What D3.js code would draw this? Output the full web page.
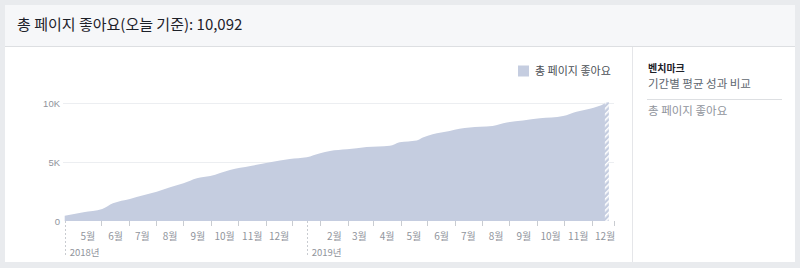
<!DOCTYPE html>
<html>
<head>
<meta charset="utf-8">
<script src="https://cdn.jsdelivr.net/npm/d3@7"></script>
<style>
  html, body { margin: 0; padding: 0; background: #e9ebee; }
  svg { display: block; font-family: "Noto Sans CJK KR", "Liberation Sans", sans-serif; }
</style>
</head>
<body>
<div id="chart"></div>
<script>
// cumulative page likes
const dates = [
  '2018-04-05', '2018-04-26', '2018-05-17', '2018-05-29', '2018-06-17', '2018-07-02',
  '2018-07-17', '2018-08-01', '2018-08-16', '2018-08-31', '2018-09-15', '2018-10-07',
  '2018-10-30', '2018-11-21', '2018-12-13', '2019-01-01', '2019-01-16', '2019-01-27',
  '2019-02-15', '2019-03-09', '2019-04-04', '2019-04-15', '2019-05-04', '2019-05-11',
  '2019-05-22', '2019-06-10', '2019-06-21', '2019-07-14', '2019-07-28', '2019-08-13',
  '2019-08-31', '2019-09-19', '2019-10-15', '2019-10-30', '2019-11-14', '2019-12-01',
  '2019-12-03'
];
const likes = [
  450, 740, 1020, 1500, 1870, 2180,
  2490, 2860, 3200, 3630, 3820, 4330,
  4670, 4990, 5270, 5410, 5750, 5950,
  6090, 6290, 6400, 6700, 6850, 7100,
  7370, 7650, 7840, 8010, 8080, 8370,
  8540, 8720, 8920, 9290, 9540, 10000,
  10092
];
const yTicks = [0, 5000, 10000];
const yTickLabels = ['0', '5K', '10K'];
const monthLabels2018 = ['5월', '6월', '7월', '8월', '9월', '10월', '11월', '12월'];
const monthLabels2019 = ['2월', '3월', '4월', '5월', '6월', '7월', '8월', '9월', '10월', '11월', '12월'];
const yearLabels = ['2018년', '2019년'];
const title = '총 페이지 좋아요(오늘 기준): 10,092';
const seriesName = '총 페이지 좋아요';

const W = 800, H = 268;
const parse = d3.timeParse('%Y-%m-%d');
const data = dates.map((d, i) => ({ date: parse(d), value: likes[i] }));

const svg = d3.select('#chart').append('svg')
  .attr('width', W)
  .attr('height', H);

// panels
svg.append('rect').attr('x', 0).attr('y', 0).attr('width', W).attr('height', H).attr('fill', '#e9ebee');
svg.append('rect').attr('x', 5).attr('y', 5).attr('width', 790).attr('height', 41).attr('fill', '#f6f7f9');
svg.append('rect').attr('x', 5).attr('y', 46).attr('width', 790).attr('height', 216).attr('fill', '#fff');
svg.append('line').attr('x1', 5).attr('x2', 795).attr('y1', 46.5).attr('y2', 46.5).attr('stroke', '#dddfe2');
svg.append('line').attr('x1', 632.5).attr('x2', 632.5).attr('y1', 47).attr('y2', 262).attr('stroke', '#e5e6e9');

svg.append('text')
  .attr('x', 17).attr('y', 30)
  .attr('font-size', 15).attr('fill', '#1d2129')
  .text(title);

// scales
const x = d3.scaleTime()
  .domain([parse('2018-04-05'), parse('2019-12-11')])
  .range([64.7, 614]);
const y = d3.scaleLinear()
  .domain([0, 10000])
  .range([221, 103.3]);

// grid
svg.append('g').selectAll('line')
  .data(yTicks.slice(1))
  .join('line')
  .attr('x1', 63).attr('x2', 614)
  .attr('y1', d => Math.round(y(d)) + 0.5).attr('y2', d => Math.round(y(d)) + 0.5)
  .attr('stroke', '#eceef1');

svg.append('g').selectAll('text')
  .data(yTicks)
  .join('text')
  .attr('x', 60).attr('y', d => y(d) + 3.5)
  .attr('text-anchor', 'end')
  .attr('font-family', 'Liberation Sans, Arial, sans-serif')
  .attr('font-size', 9.5).attr('fill', '#90949c')
  .text((d, i) => yTickLabels[i]);

// area
const area = d3.area()
  .x(d => x(d.date))
  .y0(y(0))
  .y1(d => y(d.value))
  .curve(d3.curveMonotoneX);

svg.append('path')
  .datum(data)
  .attr('d', area)
  .attr('fill', '#c5cde0');

// hatched strip at the end (incomplete period)
const defs = svg.append('defs');
const pat = defs.append('pattern')
  .attr('id', 'hatch')
  .attr('patternUnits', 'userSpaceOnUse')
  .attr('width', 4).attr('height', 4)
  .attr('patternTransform', 'rotate(45)');
pat.append('rect').attr('width', 4).attr('height', 4).attr('fill', '#c5cde0');
pat.append('rect').attr('width', 1.6).attr('height', 4).attr('fill', '#fff');

const last = data[data.length - 1];
svg.append('rect')
  .attr('x', x(last.date) - 2)
  .attr('y', y(last.value))
  .attr('width', 4)
  .attr('height', y(0) - y(last.value))
  .attr('fill', 'url(#hatch)');

// x axis ticks at mid-month
const tickDates = d3.timeMonth.range(parse('2018-05-01'), parse('2019-12-01'))
  .map(d => d3.timeDay.offset(d, 15));
tickDates.push(x.domain()[1]);
svg.append('g').selectAll('line')
  .data(tickDates)
  .join('line')
  .attr('x1', d => Math.round(x(d)) + 0.5).attr('x2', d => Math.round(x(d)) + 0.5)
  .attr('y1', 221).attr('y2', 226)
  .attr('stroke', '#c9ccd1');

// month labels at the first of each month
const months2018 = d3.timeMonth.range(parse('2018-05-01'), parse('2019-01-01'));
const months2019 = d3.timeMonth.range(parse('2019-02-01'), parse('2020-01-01'));
const monthData = months2018.map((d, i) => ({ date: d, label: monthLabels2018[i] }))
  .concat(months2019.map((d, i) => ({ date: d, label: monthLabels2019[i] })));

svg.append('g').selectAll('text')
  .data(monthData)
  .join('text')
  .attr('x', d => x(d.date))
  .attr('y', 240)
  .attr('text-anchor', 'middle')
  .attr('font-size', 10).attr('fill', '#90949c')
  .text(d => d.label);

// year boundaries
const years = [parse('2018-04-05'), parse('2019-01-01')];
svg.append('g').selectAll('line')
  .data(years)
  .join('line')
  .attr('x1', d => Math.round(x(d)) + 0.5).attr('x2', d => Math.round(x(d)) + 0.5)
  .attr('y1', 221).attr('y2', 257)
  .attr('stroke', '#c9ccd1')
  .attr('stroke-dasharray', '2,2');

svg.append('g').selectAll('text')
  .data(years)
  .join('text')
  .attr('x', d => x(d) + 5)
  .attr('y', 256)
  .attr('font-size', 9.5).attr('fill', '#90949c')
  .text((d, i) => yearLabels[i]);

// legend
svg.append('rect')
  .attr('x', 518).attr('y', 65.5)
  .attr('width', 11).attr('height', 11)
  .attr('fill', '#c5cde0');
svg.append('text')
  .attr('x', 535).attr('y', 75)
  .attr('font-size', 11).attr('fill', '#4b4f56')
  .text(seriesName);

// benchmark sidebar
svg.append('text')
  .attr('x', 648).attr('y', 72)
  .attr('font-size', 10).attr('font-weight', 'bold').attr('fill', '#1d2129')
  .text('벤치마크');
svg.append('text')
  .attr('x', 648).attr('y', 88)
  .attr('font-size', 11.5).attr('fill', '#606770')
  .text('기간별 평균 성과 비교');
svg.append('line')
  .attr('x1', 647).attr('x2', 782)
  .attr('y1', 99.5).attr('y2', 99.5)
  .attr('stroke', '#dddfe2');
svg.append('text')
  .attr('x', 648).attr('y', 115)
  .attr('font-size', 11.5).attr('fill', '#90949c')
  .text(seriesName);
</script>
</body>
</html>
